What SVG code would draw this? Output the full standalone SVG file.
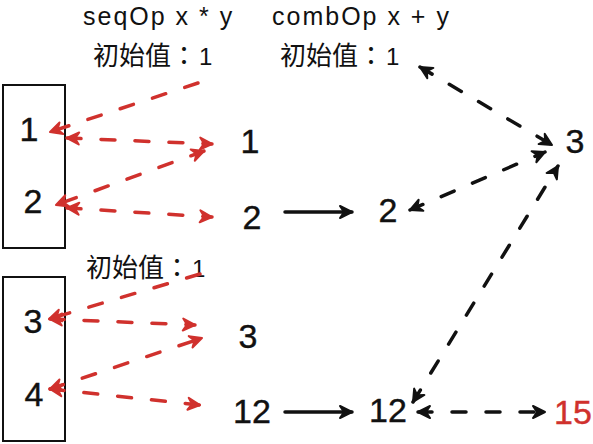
<svg xmlns="http://www.w3.org/2000/svg" width="593" height="444" viewBox="0 0 593 444">
  <style>
    .lbl { font-family: "Liberation Sans", Arial, sans-serif; font-size: 25px; fill: #111; letter-spacing: 2px; }
    .cjk { font-family: "Noto Sans CJK SC", "Liberation Sans", sans-serif; font-size: 26px; fill: #111; }
    .col { font-family: "Noto Sans CJK TC", "Noto Sans CJK JP", sans-serif; }
    .one { font-family: "Liberation Sans", Arial, sans-serif; font-size: 24px; }
    .num { font-family: "Liberation Sans", Arial, sans-serif; font-size: 34px; fill: #111; text-anchor: middle; stroke: #111; stroke-width: 0.4; }
    .red { fill: #d0312d; stroke: #d0312d; }
    .box { fill: none; stroke: #111; stroke-width: 2; }
    .rd { fill: none; stroke: #d0312d; stroke-width: 3.5; stroke-dasharray: 14 20; stroke-linecap: round; marker-end: url(#hr); }
    .rd2 { marker-start: url(#hr); }
    .bd { fill: none; stroke: #111; stroke-width: 3.5; stroke-dasharray: 14 20; stroke-linecap: round; marker-end: url(#hb); marker-start: url(#hb); }
    .bs { fill: none; stroke: #111; stroke-width: 3.5; stroke-linecap: round; marker-end: url(#hb); }
  </style>
  <defs>
    <marker id="hr" viewBox="-14 -8 16 16" refX="0" refY="0" markerWidth="16" markerHeight="16" markerUnits="userSpaceOnUse" orient="auto-start-reverse">
      <path d="M0,0 L-12,-6 L-8,0 L-12,6 Z" fill="#d0312d" stroke="#d0312d" stroke-width="2" stroke-linejoin="round"/>
    </marker>
    <marker id="hb" viewBox="-14 -8 16 16" refX="0" refY="0" markerWidth="16" markerHeight="16" markerUnits="userSpaceOnUse" orient="auto-start-reverse">
      <path d="M0,0 L-12,-6 L-8,0 L-12,6 Z" fill="#111" stroke="#111" stroke-width="2" stroke-linejoin="round"/>
    </marker>
  </defs>

  <g id="labels">
    <text class="lbl" x="83" y="25">seqOp x * y</text>
    <text class="lbl" x="272" y="25">combOp x + y</text>
    <text class="cjk" x="93" y="65">初始值<tspan class="col">：</tspan><tspan class="one" dx="2">1</tspan></text>
    <text class="cjk" x="280" y="65">初始值<tspan class="col">：</tspan><tspan class="one" dx="2">1</tspan></text>
    <text class="cjk" x="86" y="277">初始值<tspan class="col">：</tspan><tspan class="one" dx="2">1</tspan></text>
  </g>

  <g id="partition1">
    <rect class="box" x="3" y="85" width="62" height="163"/>
    <text class="num" x="29" y="141">1</text>
    <text class="num" x="33" y="213">2</text>
  </g>
  <g id="partition2">
    <rect class="box" x="3" y="277" width="62" height="164"/>
    <text class="num" x="33" y="333">3</text>
    <text class="num" x="34" y="406">4</text>
  </g>

  <g id="seq1"><text class="num" x="250" y="153">1</text></g>
  <g id="seq2"><text class="num" x="252" y="229">2</text></g>
  <g id="seq3"><text class="num" x="248" y="348">3</text></g>
  <g id="seq12"><text class="num" x="252" y="423">12</text></g>
  <g id="comb2"><text class="num" x="388" y="222">2</text></g>
  <g id="comb12"><text class="num" x="388" y="422">12</text></g>
  <g id="comb3"><text class="num" x="575" y="153">3</text></g>
  <g id="result"><text class="num red" x="573" y="424">15</text></g>

  <g id="connectors">
    <path class="rd" d="M198,83 L50,132"/>
    <path class="rd rd2" d="M67,138 L212,144"/>
    <path class="rd rd2" d="M204,151 L56,205"/>
    <path class="rd rd2" d="M67,208 L212,217"/>
    <path class="rd" d="M200,274 L49,319"/>
    <path class="rd rd2" d="M50,319 L195,325"/>
    <path class="rd rd2" d="M50,389 L202,338"/>
    <path class="rd rd2" d="M50,389 L200,405"/>

    <path class="bd" d="M420,67 L552,145"/>
    <path class="bd" d="M410,210 L545,152"/>
    <path class="bd" d="M413,402 L558,166"/>
    <path class="bd" d="M418,412 L545,412"/>

    <path class="bs" d="M285,212 L352,212"/>
    <path class="bs" d="M285,412 L352,412"/>
  </g>
</svg>
